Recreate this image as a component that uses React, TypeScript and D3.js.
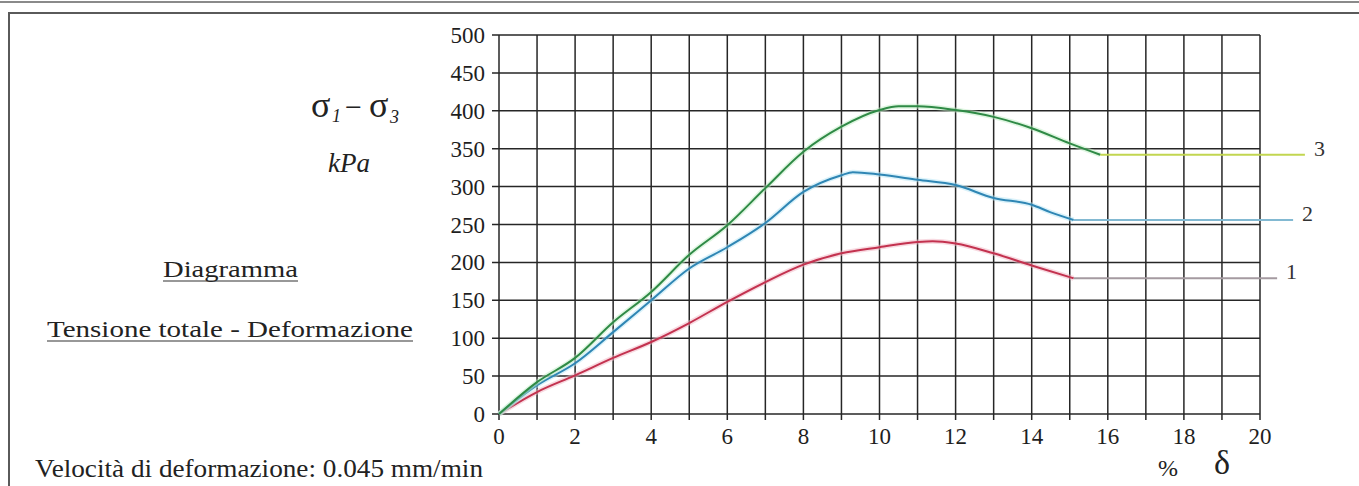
import React from "react";
import * as d3 from "d3";

// ---- data ----
const xTicks = [0, 2, 4, 6, 8, 10, 12, 14, 16, 18, 20];
const yTicks = [0, 50, 100, 150, 200, 250, 300, 350, 400, 450, 500];

const strain1 = [0, 1, 2, 3, 4, 5, 6, 7, 8, 9, 10, 11, 11.4, 12, 13, 14, 15.1];
const stress1 = [0, 29, 51, 74, 95, 120, 148, 174, 197, 212, 220, 227, 228, 225, 212, 196, 179];
const tail1 = { from: 15.1, to: 20.45, value: 179 };

const strain2 = [0, 1, 2, 3, 4, 5, 6, 7, 8, 9, 9.3, 10, 11, 12, 13, 14, 14.5, 15.1];
const stress2 = [0, 38, 67, 108, 150, 192, 220, 252, 293, 315, 319, 316, 309, 302, 285, 276, 266, 256];
const tail2 = { from: 15.1, to: 20.87, value: 256 };

const strain3 = [0, 1, 2, 3, 4, 5, 6, 7, 8, 9, 10, 10.5, 11, 12, 13, 14, 15, 15.8];
const stress3 = [0, 42, 74, 121, 161, 210, 249, 298, 346, 379, 401, 406, 406, 401, 392, 377, 357, 342];
const tail3 = { from: 15.8, to: 21.18, value: 342 };

const seriesLabels = ["1", "2", "3"];

const W = 1359;
const H = 486;

export default function App() {
  const x = d3.scaleLinear().domain([0, 20]).range([499, 1260]);
  const y = d3.scaleLinear().domain([0, 500]).range([414, 35]);
  const gridX = d3.range(0, 21);

  const line = d3
    .line<[number, number]>()
    .x((d) => x(d[0]))
    .y((d) => y(d[1]))
    .curve(d3.curveMonotoneX);

  const series = [
    { xs: strain1, ys: stress1, tail: tail1, color: "#c3324f", halo: "#f2b6c4", tailColor: "#a49aa0", label: seriesLabels[0] },
    { xs: strain2, ys: stress2, tail: tail2, color: "#2f86b4", halo: "#b6e6f6", tailColor: "#82b9d2", label: seriesLabels[1] },
    { xs: strain3, ys: stress3, tail: tail3, color: "#2f8a46", halo: "#bfeec4", tailColor: "#c2d650", label: seriesLabels[2] },
  ];

  const font = "'Liberation Serif', 'Times New Roman', Times, serif";

  return (
    <svg
      width={W}
      height={H}
      style={{ position: "absolute", left: 0, top: 0, background: "#fff", fontFamily: font, whiteSpace: "pre" }}
    >
      <rect x={0} y={0} width={W} height={H} fill="#fff" />
      {/* frame */}
      <line x1={0} x2={W} y1={2} y2={2} stroke="#8a8a8a" strokeWidth={2} />
      <rect x={9} y={13} width={W + 20} height={H + 20} fill="none" stroke="#5a5a5a" strokeWidth={2} />

      {/* grid */}
      {gridX.map((v) => (
        <line key={"gx" + v} x1={x(v)} x2={x(v)} y1={y(500)} y2={y(0) + 6} stroke="#262626" strokeWidth={1.5} />
      ))}
      {yTicks.map((v) => (
        <line key={"gy" + v} x1={x(0) - 7} x2={x(20)} y1={y(v)} y2={y(v)} stroke="#262626" strokeWidth={1.5} />
      ))}

      {/* y tick labels */}
      {yTicks.map((v) => (
        <text key={"yl" + v} x={485} y={y(v) + 8} textAnchor="end" fontSize={23} fill="#1e1e1e">
          {v}
        </text>
      ))}
      {/* x tick labels */}
      {xTicks.map((v) => (
        <text key={"xl" + v} x={x(v)} y={444} textAnchor="middle" fontSize={23} fill="#1e1e1e">
          {v}
        </text>
      ))}

      {/* curves */}
      {series.map((s, i) => {
        const pts: [number, number][] = s.xs.map((v, j) => [v, s.ys[j]]);
        return (
          <g key={"s" + i}>
            <path d={line(pts) || ""} fill="none" stroke={s.halo} strokeWidth={5} opacity={0.5} />
            <line
              x1={x(s.tail.from)}
              x2={x(s.tail.to)}
              y1={y(s.tail.value)}
              y2={y(s.tail.value)}
              stroke={s.tailColor}
              strokeWidth={2}
            />
            <path d={line(pts) || ""} fill="none" stroke={s.color} strokeWidth={2} />
            <text x={x(s.tail.to) + 9} y={y(s.tail.value) + 1} fontSize={22} fill="#333">
              {s.label}
            </text>
          </g>
        );
      })}

      {/* y axis title */}
      <text x={311} y={117} fontSize={36} fill="#222">σ</text>
      <text x={332} y={122} fontSize={18} fontStyle="italic" fill="#222">1</text>
      <text x={345} y={117} fontSize={30} fill="#222">−</text>
      <text x={369} y={117} fontSize={36} fill="#222">σ</text>
      <text x={390} y={123} fontSize={18} fontStyle="italic" fill="#222">3</text>
      <text x={328} y={172} fontSize={27} fontStyle="italic" fill="#222">kPa</text>

      {/* left titles */}
      <text x={163} y={277} fontSize={23} textLength={135} lengthAdjust="spacingAndGlyphs" fill="#222">
        Diagramma
      </text>
      <line x1={163} x2={298} y1={281} y2={281} stroke="#333" strokeWidth={1.2} />
      <text x={47} y={337} fontSize={23} textLength={366} lengthAdjust="spacingAndGlyphs" fill="#222">
        Tensione totale - Deformazione
      </text>
      <line x1={47} x2={413} y1={341} y2={341} stroke="#333" strokeWidth={1.2} />
      <text x={35} y={477} fontSize={26} textLength={448} lengthAdjust="spacingAndGlyphs" fill="#222">
        {"Velocità di deformazione:  0.045  mm/min"}
      </text>

      {/* x axis title */}
      <text x={1168} y={476} fontSize={24} fill="#222" textAnchor="middle">%</text>
      <text x={1222} y={474} fontSize={34} fill="#222" textAnchor="middle">δ</text>
    </svg>
  );
}
